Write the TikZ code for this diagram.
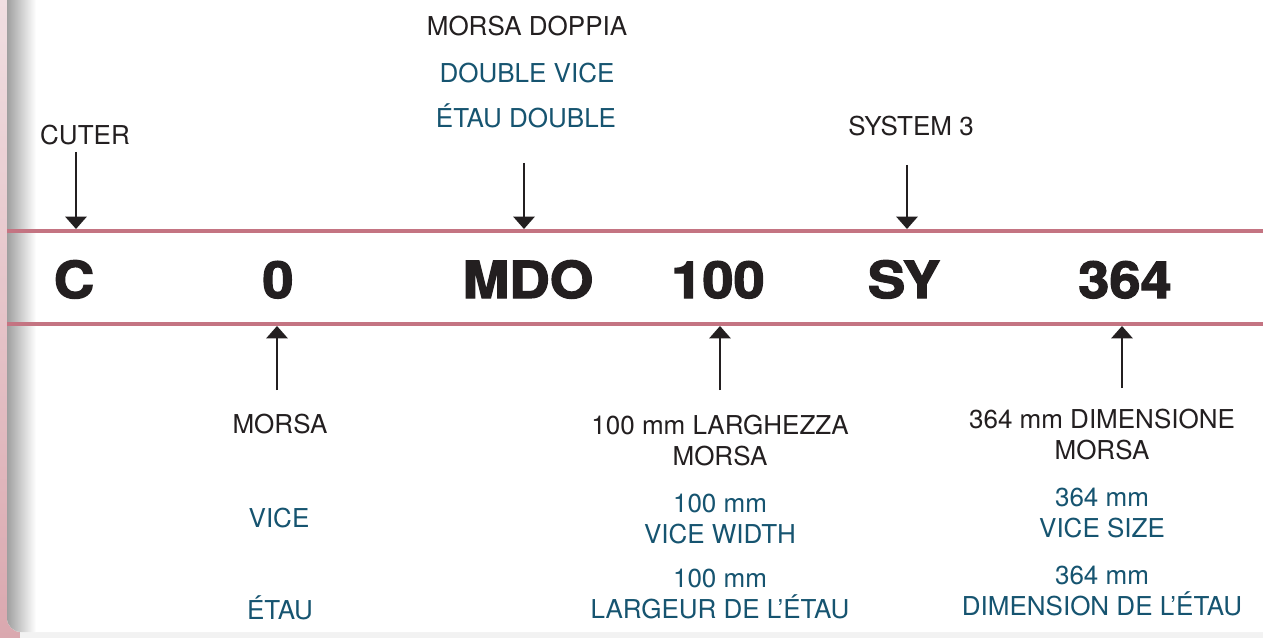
\documentclass[tikz,border=0pt]{standalone}
\usepackage{fontspec}
\setmainfont{TeX Gyre Heros}
\newfontfamily\codefont[FakeStretch=1.1,FakeBold=2.5]{TeX Gyre Heros}
\usetikzlibrary{arrows.meta}

\definecolor{inkblack}{RGB}{35,31,32}
\definecolor{vblue}{RGB}{22,84,112}
\definecolor{rosered}{RGB}{196,116,130}
\definecolor{pinktop}{RGB}{240,222,225}
\definecolor{pinkbot}{RGB}{218,168,175}

\begin{document}
\begin{tikzpicture}[x=0.02cm,y=-0.02cm,
    code/.style={anchor=base,inner sep=0pt,text=inkblack,font=\codefont\bfseries\fontsize{29}{29}\selectfont},
    itlab/.style={anchor=base,inner sep=0pt,align=center,text=inkblack,font=\fontsize{14.8}{17.6}\selectfont},
    enlab/.style={itlab,text=vblue},
    ptr/.style={-{Triangle[width=12pt,length=7pt]},line width=1.3pt,inkblack},
    rule/.style={line width=1.8pt,rosered}]
  \useasboundingbox (0,0) rectangle (1263,638);
  % page edge, panel and its shadow
  \shade[top color=pinktop,bottom color=pinkbot] (0,0) rectangle (1263,638);
  \fill[gray!10] (20,630) rectangle (1263,638);
  \begin{scope}
    \clip[rounded corners=8pt] (7,-20) rectangle (1300,632);
    \fill[white] (7,-20) rectangle (1300,640);
    \shade[left color=gray!75,right color=white] (7,-20) rectangle (36,640);
  \end{scope}
  % the two rules
  \coordinate (tl) at (7,231);  \coordinate (tr) at (1263,231);
  \coordinate (bl) at (7,324);  \coordinate (br) at (1263,324);
  \draw[rule] (tl) -- (tr);
  \draw[rule] (bl) -- (br);
  % the code
  \node[code] (cC)   at (74,298)   {C};
  \node[code] (c0)   at (278,298)  {0};
  \node[code] (cMDO) at (528,298)  {MDO};
  \node[code] (c100) at (718,298)  {100};
  \node[code] (cSY)  at (904,298)  {SY};
  \node[code] (c364) at (1125,298) {364};
  % labels above
  \node[itlab] (lCuter)  at (85,145)  {CUTER};
  \node[itlab] (lMdoIt)  at (527,36)  {MORSA DOPPIA};
  \node[enlab] (lMdoEn)  at (527,83)  {DOUBLE VICE};
  \node[enlab] (lMdoFr)  at (526,128) {ÉTAU DOUBLE};
  \node[itlab] (lSystem) at (911,136) {SYSTEM 3};
  % labels below (base = last line)
  \node[itlab] (lMorsa)  at (280,433) {MORSA};
  \node[enlab] (lVice)   at (279,527) {VICE};
  \node[enlab] (lEtau)   at (280,619) {ÉTAU};
  \node[itlab] (lWidIt)  at (720,465) {100 mm LARGHEZZA\\MORSA};
  \node[enlab] (lWidEn)  at (720,543) {100 mm\\VICE WIDTH};
  \node[enlab] (lWidFr)  at (720,618) {100 mm\\LARGEUR DE L’ÉTAU};
  \node[itlab] (lSizeIt) at (1102,459) {364 mm DIMENSIONE\\MORSA};
  \node[enlab] (lSizeEn) at (1102,537) {364 mm\\VICE SIZE};
  \node[enlab] (lSizeFr) at (1102,615) {364 mm\\DIMENSION DE L’ÉTAU};
  % pointers down to the top rule
  \coordinate (aCuter) at (76,152);   \coordinate (hCuter) at (76,229);
  \coordinate (aMdo)   at (524,163);  \coordinate (hMdo)   at (524,229);
  \coordinate (aSys)   at (907,165);  \coordinate (hSys)   at (907,229);
  \draw[ptr] (aCuter) -- (hCuter);
  \draw[ptr] (aMdo) -- (hMdo);
  \draw[ptr] (aSys) -- (hSys);
  % pointers up to the bottom rule
  \coordinate (aMorsa) at (277,390);  \coordinate (hMorsa) at (277,326);
  \coordinate (aWid)   at (720,390);  \coordinate (hWid)   at (720,326);
  \coordinate (aSize)  at (1122,388); \coordinate (hSize)  at (1122,326);
  \draw[ptr] (aMorsa) -- (hMorsa);
  \draw[ptr] (aWid) -- (hWid);
  \draw[ptr] (aSize) -- (hSize);
\end{tikzpicture}
\end{document}
